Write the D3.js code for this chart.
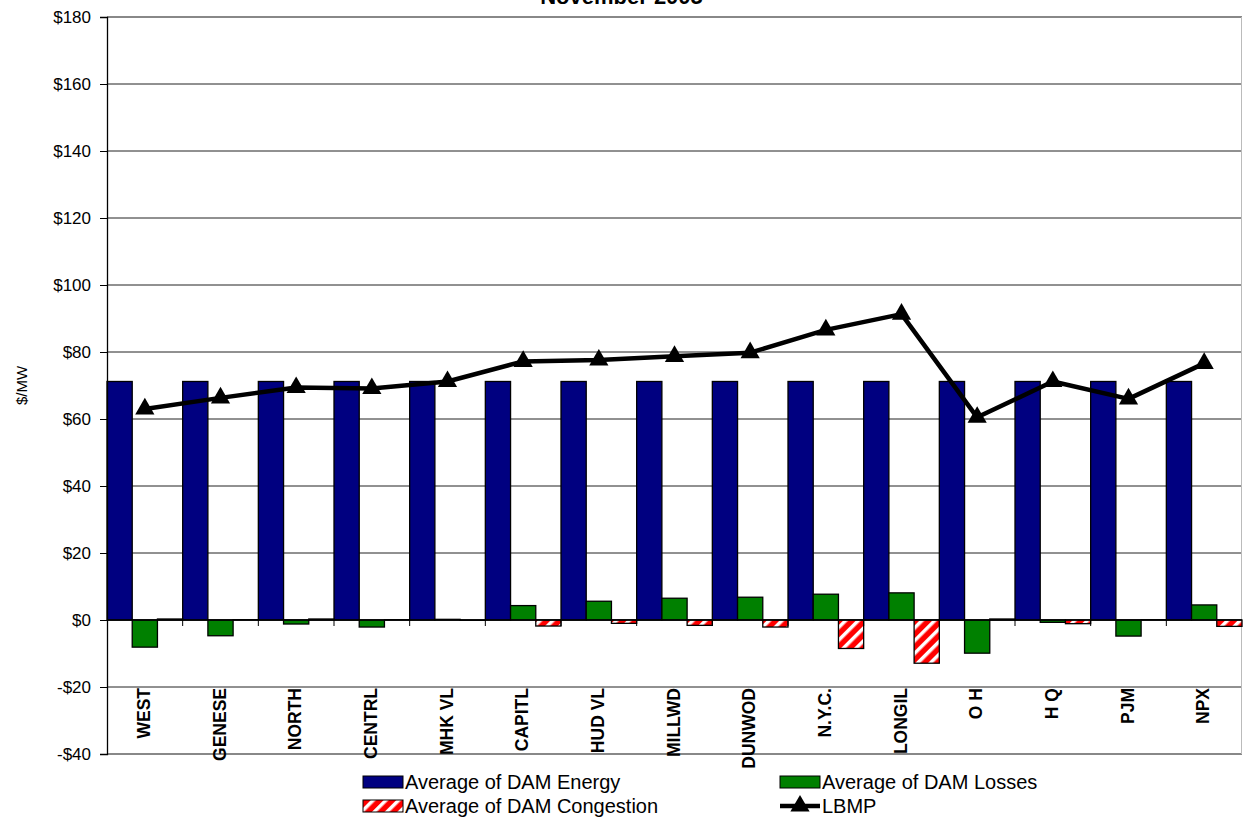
<!DOCTYPE html>
<html>
<head>
<meta charset="utf-8">
<script src="https://cdn.jsdelivr.net/npm/d3@7"></script>
<style>
  body { margin: 0; background: #fff; }
  svg { display: block; font-family: Arial, "Liberation Sans", sans-serif; }
  .tick-label { font-size: 17px; fill: #000; }
  .cat-label { font-size: 17.5px; font-weight: bold; fill: #000; }
  .legend-label { font-size: 20px; fill: #000; }
</style>
</head>
<body>
<div id="chart"></div>
<script>
var zones = ["WEST", "GENESE", "NORTH", "CENTRL", "MHK VL", "CAPITL", "HUD VL",
  "MILLWD", "DUNWOD", "N.Y.C.", "LONGIL", "O H", "H Q", "PJM", "NPX"];
var damEnergy = [71.2, 71.2, 71.2, 71.2, 71.2, 71.2, 71.2, 71.2, 71.2, 71.2,
  71.2, 71.2, 71.2, 71.2, 71.2];
var damLosses = [-8.1, -4.7, -1.2, -2.1, 0.2, 4.3, 5.6, 6.5, 6.8, 7.7, 8.1,
  -9.9, -0.7, -4.8, 4.5];
var damCongestion = [0.3, 0.1, 0.3, 0.1, -0.1, -1.8, -1.0, -1.6, -2.1, -8.5,
  -12.9, 0.3, -1.1, 0.1, -1.9];
var lbmp = [63.0, 66.3, 69.4, 69.1, 71.2, 77.2, 77.6, 78.7, 79.8, 86.6, 91.3,
  60.5, 71.2, 66.0, 76.6];
var yTicks = [-40, -20, 0, 20, 40, 60, 80, 100, 120, 140, 160, 180];
var seriesNames = ["Average of DAM Energy", "Average of DAM Losses",
  "Average of DAM Congestion", "LBMP"];

var width = 1243, height = 827;
var margin = {top: 17, right: 1, bottom: 73, left: 107};

var svg = d3.select("#chart").append("svg")
  .attr("width", width)
  .attr("height", height);

var defs = svg.append("defs");
var hatch = defs.append("pattern")
  .attr("id", "hatch")
  .attr("patternUnits", "userSpaceOnUse")
  .attr("width", 9)
  .attr("height", 9)
  .attr("patternTransform", "rotate(45)");
hatch.append("rect").attr("width", 9).attr("height", 9).attr("fill", "#ff0000");
hatch.append("rect").attr("x", 0).attr("width", 3.5).attr("height", 9).attr("fill", "#fff");

var x = d3.scaleBand()
  .domain(zones)
  .range([margin.left, width - margin.right])
  .paddingInner(0)
  .paddingOuter(0);

var y = d3.scaleLinear()
  .domain([-40, 180])
  .range([height - margin.bottom, margin.top]);

var series = [
  {name: seriesNames[0], values: damEnergy, fill: "#000080"},
  {name: seriesNames[1], values: damLosses, fill: "#008000"},
  {name: seriesNames[2], values: damCongestion, fill: "url(#hatch)"}
];

var xSub = d3.scaleBand()
  .domain(d3.range(series.length))
  .range([0, x.bandwidth()])
  .padding(0);

// gridlines
svg.append("g")
  .selectAll("line")
  .data(yTicks)
  .enter()
  .append("line")
  .attr("x1", margin.left)
  .attr("x2", width - margin.right)
  .attr("y1", function(d) { return y(d); })
  .attr("y2", function(d) { return y(d); })
  .attr("stroke", function(d) {
    return (d == 180 || d == -40) ? "#888" : "#222";
  })
  .attr("stroke-width", function(d) {
    return (d == 180 || d == -40) ? 2 : 1;
  });

// right border of plot area
svg.append("line")
  .attr("x1", width - margin.right - 0.5)
  .attr("x2", width - margin.right - 0.5)
  .attr("y1", y(180))
  .attr("y2", y(-40))
  .attr("stroke", "#bbb")
  .attr("stroke-width", 1);

// bars
series.forEach(function(s, si) {
  svg.append("g")
    .selectAll("rect")
    .data(s.values)
    .enter()
    .append("rect")
    .attr("x", function(d, i) { return x(zones[i]) + xSub(si); })
    .attr("y", function(d) { return y(Math.max(0, d)); })
    .attr("width", xSub.bandwidth())
    .attr("height", function(d) { return Math.abs(y(d) - y(0)); })
    .attr("fill", s.fill)
    .attr("stroke", "#000")
    .attr("stroke-width", 1.3);
});

// category axis at zero
svg.append("line")
  .attr("x1", margin.left)
  .attr("x2", width - margin.right)
  .attr("y1", y(0))
  .attr("y2", y(0))
  .attr("stroke", "#000")
  .attr("stroke-width", 1.3);
svg.append("g")
  .selectAll("line")
  .data(zones.slice(1))
  .enter()
  .append("line")
  .attr("x1", function(d) { return x(d); })
  .attr("x2", function(d) { return x(d); })
  .attr("y1", y(0))
  .attr("y2", y(0) + 6)
  .attr("stroke", "#000");

// y axis
var yAxis = svg.append("g")
  .attr("transform", "translate(" + margin.left + ",0)")
  .call(d3.axisLeft(y)
    .tickValues(yTicks)
    .tickSize(7)
    .tickFormat(function(d) { return d < 0 ? "-$" + (-d) : "$" + d; }));
yAxis.attr("font-size", null).attr("font-family", null);
yAxis.select(".domain").attr("stroke", "#000").attr("stroke-width", 1.3);
yAxis.selectAll(".tick line").attr("stroke", "#000");
yAxis.selectAll(".tick text")
  .attr("class", "tick-label")
  .attr("x", -16);

// category labels
svg.append("g")
  .selectAll("text")
  .data(zones)
  .enter()
  .append("text")
  .attr("class", "cat-label")
  .attr("text-anchor", "end")
  .attr("transform", function(d) {
    return "translate(" + (x(d) + x.bandwidth() / 2 + 5) + "," + (y(-20) + 1) + ") rotate(-90)";
  })
  .text(function(d) { return d; });

// LBMP line
var line = d3.line()
  .x(function(d, i) { return x(zones[i]) + x.bandwidth() / 2; })
  .y(function(d) { return y(d); });
svg.append("path")
  .datum(lbmp)
  .attr("d", line)
  .attr("fill", "none")
  .attr("stroke", "#000")
  .attr("stroke-width", 4.5)
  .attr("stroke-linejoin", "round");
var tri = d3.symbol().type(d3.symbolTriangle).size(160);
svg.append("g")
  .selectAll("path")
  .data(lbmp)
  .enter()
  .append("path")
  .attr("d", tri)
  .attr("transform", function(d, i) {
    return "translate(" + (x(zones[i]) + x.bandwidth() / 2) + "," + y(d) + ")";
  })
  .attr("fill", "#000");

// y axis title
svg.append("text")
  .attr("transform", "translate(27," + y(70) + ") rotate(-90)")
  .attr("text-anchor", "middle")
  .style("font-size", "15px")
  .text("$/MW");

// chart title (cut off at the top, as in the reference)
svg.append("text")
  .attr("x", width / 2)
  .attr("y", 4)
  .attr("text-anchor", "middle")
  .style("font-size", "22px")
  .style("font-weight", "bold")
  .text("November 2005");

// legend
var legendItems = [
  {name: seriesNames[0], fill: "#000080", col: 0, row: 0},
  {name: seriesNames[1], fill: "#008000", col: 1, row: 0},
  {name: seriesNames[2], fill: "url(#hatch)", col: 0, row: 1},
  {name: seriesNames[3], line: true, col: 1, row: 1}
];
var legendX = [363, 780];
var legendY = [782, 806];
var legend = svg.append("g");
legendItems.forEach(function(item) {
  var lx = legendX[item.col], ly = legendY[item.row];
  if (item.line) {
    legend.append("line")
      .attr("x1", lx).attr("x2", lx + 40)
      .attr("y1", ly).attr("y2", ly)
      .attr("stroke", "#000").attr("stroke-width", 4.5);
    legend.append("path")
      .attr("d", tri)
      .attr("transform", "translate(" + (lx + 20) + "," + ly + ")")
      .attr("fill", "#000");
  } else {
    legend.append("rect")
      .attr("x", lx).attr("y", ly - 6)
      .attr("width", 40).attr("height", 12)
      .attr("fill", item.fill)
      .attr("stroke", "#000");
  }
  legend.append("text")
    .attr("class", "legend-label")
    .attr("x", lx + 42)
    .attr("y", ly)
    .attr("dy", "0.35em")
    .text(item.name);
});
</script>
</body>
</html>
